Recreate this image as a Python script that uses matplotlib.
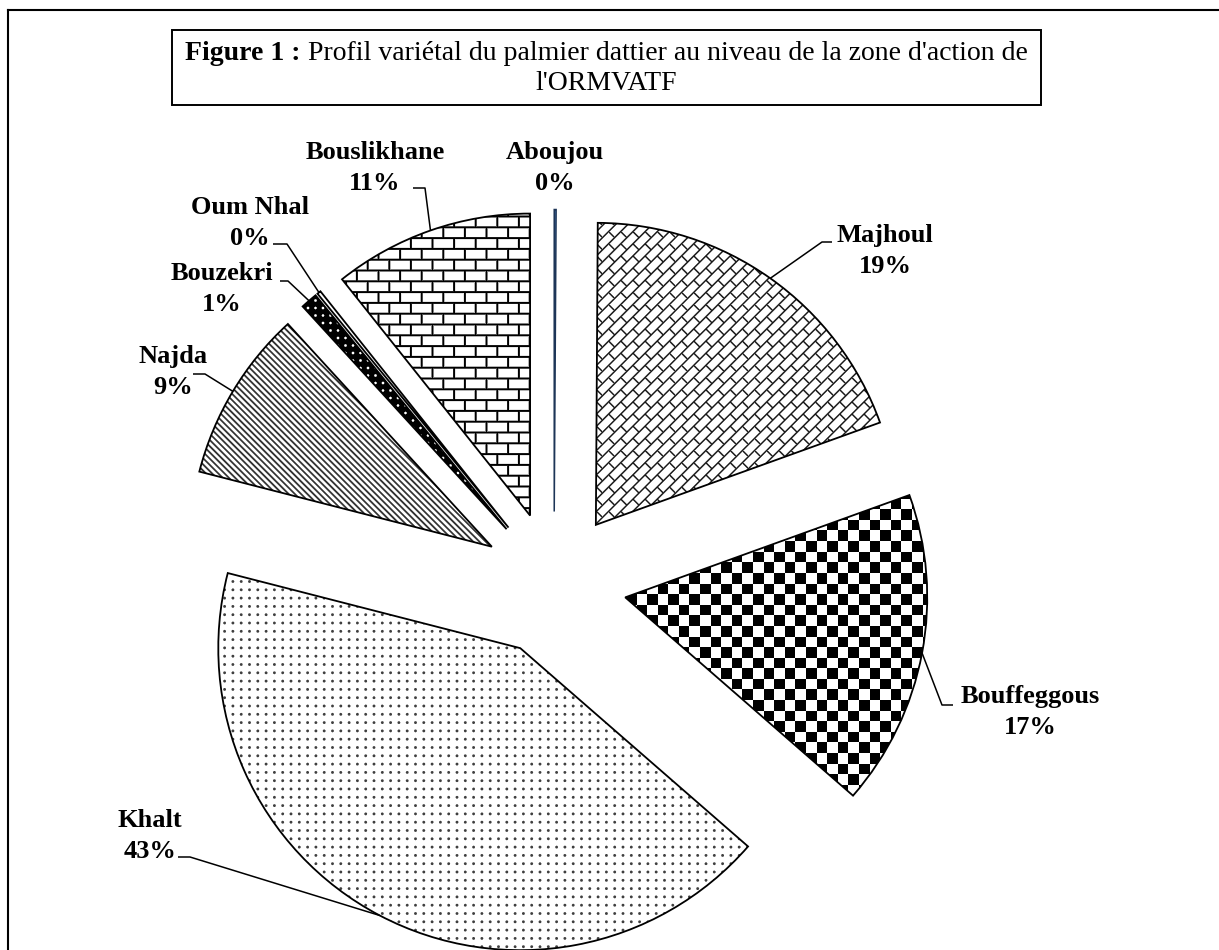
"""
Exploded pie: varietal profile of the date palm in the ORMVATF action zone.
Slices are filled with black/white textures clipped to each wedge.
"""
import numpy as np
import matplotlib
matplotlib.use("Agg")
import matplotlib.pyplot as plt
from matplotlib.patches import Rectangle

W, H = 1219, 950  # output size in pixels (dpi 100)

varieties = ["Aboujou", "Majhoul", "Bouffeggous", "Khalt", "Najda",
             "Bouzekri", "Oum Nhal", "Bouslikhane"]
shares = [0.1, 19.4, 16.9, 42.6, 9.2, 0.9, 0.2, 10.7]

plt.rcParams["font.family"] = ["Liberation Serif", "DejaVu Serif"]

fig = plt.figure(figsize=(W / 100, H / 100), dpi=100)
ax = fig.add_axes([0, 0, 1, 1])


def P(x, y):
    """image pixel (y down) -> data coords (y up)"""
    return x, H - y


# ---- textures, computed on the pixel grid ----
Yy, Xx = np.mgrid[0:H, 0:W].astype(np.float32)


def band(coord, period, offset=0.0, half=0.7):
    r = np.mod(coord - offset, period)
    d = np.minimum(r, period - r)
    return np.clip(half + 0.5 - d, 0, 1)


def grid_dist(sp, ox=0.0, oy=0.0):
    rx = np.mod(Xx - ox, sp)
    ry = np.mod(Yy - oy, sp)
    return np.hypot(np.minimum(rx, sp - rx), np.minimum(ry, sp - ry))


def tex_diag_brick():
    s = (Xx + Yy) / np.sqrt(2)
    t = (Xx - Yy) / np.sqrt(2)
    p, L = 8.6, 17.2
    row = np.floor(s / p)
    ink = np.maximum(band(s, p, 0, 0.75), band(t, L, (row % 2) * L / 2, 0.75))
    return ink * 0.9


def tex_checker():
    sq = 10.6
    return ((np.floor(Xx / sq) + np.floor(Yy / sq)) % 2).astype(np.float32)


def tex_dots():
    return np.clip(1.9 - grid_dist(8.3), 0, 1) * 0.75


def tex_stripes():
    u = (Xx - Yy) / np.sqrt(2)
    return band(u, 4.4, 0, 0.9) * 0.8


def tex_black_dots():
    return 1 - np.clip(1.8 - grid_dist(7.5), 0, 1)


def tex_brick():
    hh, L = 10.8, 21.6
    row = np.floor(Yy / hh)
    return np.maximum(band(Yy, hh, 0, 1.0), band(Xx, L, (row % 2) * L / 2, 1.0))


def tex_blank():
    return np.zeros_like(Xx)


textures = {
    "Majhoul": tex_diag_brick,
    "Bouffeggous": tex_checker,
    "Khalt": tex_dots,
    "Najda": tex_stripes,
    "Bouzekri": tex_black_dots,
    "Oum Nhal": tex_blank,
    "Bouslikhane": tex_brick,
}

# ---- pie ----
R = 302
centre = P(554, 584)
explode = [0.24 * R] * len(shares)
wedges, _ = ax.pie(shares, explode=explode, radius=R, center=centre,
                   startangle=90, counterclock=False,
                   wedgeprops=dict(edgecolor="black", linewidth=1.3))

for name, w in zip(varieties, wedges):
    w.set_zorder(3)
    if name in textures:
        w.set_facecolor("none")
        ink = textures[name]()
        img = np.ones((H, W, 4), dtype=np.float32)
        img[..., :3] = (1 - ink)[..., None]
        im = ax.imshow(img, extent=(0, W, 0, H), origin="upper",
                       interpolation="nearest", zorder=2)
        im.set_clip_path(w)
    else:
        # the near-zero slice: thin blue sliver
        w.set_facecolor("#4a7ebb")
        w.set_edgecolor("#1d3557")
        w.set_linewidth(1.1)

# ---- data labels ----
label_pos = {
    "Aboujou": (555, 168),
    "Bouslikhane": (375, 168),
    "Oum Nhal": (250, 223),
    "Bouzekri": (222, 289),
    "Najda": (173, 372),
    "Majhoul": (885, 251),
    "Bouffeggous": (1030, 712),
    "Khalt": (150, 836),
}
# start of each leader (text side) and its knee, image px
leader_start = {
    "Bouslikhane": [(413, 188), (425, 188)],
    "Oum Nhal": [(273, 244), (287, 244)],
    "Bouzekri": [(280, 281), (288, 281)],
    "Najda": [(193, 374), (205, 374)],
    "Majhoul": [(832, 242), (822, 242)],
    "Bouffeggous": [(953, 705), (942, 705)],
    "Khalt": [(178, 857), (190, 857)],
}

for name, val, w in zip(varieties, shares, wedges):
    x, y = P(*label_pos[name])
    ax.text(x, y, f"{name}\n{round(val):.0f}%", ha="center", va="center",
            ma="center", fontsize=19, fontweight="bold", linespacing=1.4,
            zorder=5)
    if name in leader_start:
        tm = np.deg2rad((w.theta1 + w.theta2) / 2)
        end = (w.center[0] + w.r * np.cos(tm), w.center[1] + w.r * np.sin(tm))
        pts = [P(*p) for p in leader_start[name]] + [end]
        xs, ys = zip(*pts)
        ax.plot(xs, ys, color="black", lw=1.1, zorder=4,
                solid_capstyle="butt")

# ---- title box ----
bx0, by0, bx1, by1 = 172, 30, 1041, 105
ax.add_patch(Rectangle(P(bx0, by1), bx1 - bx0, by1 - by0, fill=False,
                       edgecolor="black", lw=1.4, zorder=5))
t1 = ax.text(0, H - 53, "Figure 1 :", fontsize=20, fontweight="bold",
             ha="left", va="center")
t2 = ax.text(0, H - 53,
             " Profil variétal du palmier dattier au niveau de la zone d'action de",
             fontsize=20, ha="left", va="center")
rend = fig.canvas.get_renderer()
w1 = t1.get_window_extent(rend).width
w2 = t2.get_window_extent(rend).width
xstart = (bx0 + bx1) / 2 - (w1 + w2) / 2
t1.set_x(xstart)
t2.set_x(xstart + w1)
ax.text((bx0 + bx1) / 2, H - 84, "l'ORMVATF", fontsize=20,
        ha="center", va="center")

# ---- outer frame (top and left edges only, rest is cut off) ----
ax.plot([8, W], [H - 10, H - 10], color="black", lw=1.5, clip_on=False)
ax.plot([8, 8], [H - 10, 0], color="black", lw=1.5, clip_on=False)

ax.set_xlim(0, W)
ax.set_ylim(0, H)
ax.axis("off")

fig.savefig("out.png", dpi=100)
